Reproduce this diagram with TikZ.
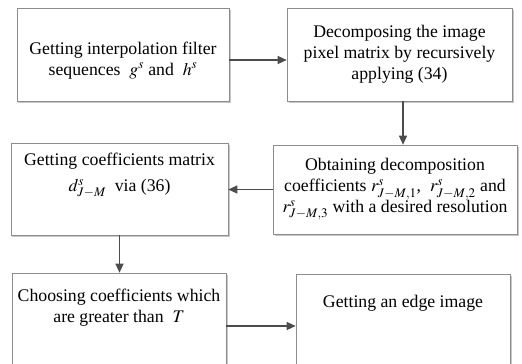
\documentclass[tikz,border=0pt]{standalone}
\usepackage{mathptmx}
\usepackage[no-math]{fontspec}
\setmainfont{Liberation Serif}
\usetikzlibrary{arrows.meta,shadows}

\tikzset{
  stepbox/.style={draw=black!45, line width=0.6pt, fill=white, align=center,
    inner sep=2pt, font=\fontsize{17.8}{21}\selectfont,
    drop shadow={shadow xshift=1.5bp, shadow yshift=-1.5bp, fill=black!22, opacity=1}},
  flow/.style={draw=black!70, line width=1.2pt, -{Triangle[length=9bp,width=8bp]}},
}

\begin{document}
\begin{tikzpicture}[x=1bp, y=-1bp]
  \useasboundingbox (0,0) rectangle (522,363);
  \clip (0,0) rectangle (522,363);

  % Boxes, top row
  \node[stepbox, minimum width=212bp, minimum height=93bp] (filters) at (123,54.5)
    {\rule{0pt}{24bp}Getting interpolation filter\\sequences \ $g^{s}$ and \ $h^{s}$};
  \node[stepbox, minimum width=225bp, minimum height=93bp] (decomp) at (399.5,54.5)
    {Decomposing the image\\pixel matrix by recursively\\applying (34)};

  % Boxes, middle row
  \node[stepbox, minimum width=244bp, minimum height=89bp] (obtain) at (395,189.5)
    {Obtaining decomposition\\coefficients $r^{s}_{J-M,1}$, \ $r^{s}_{J-M,2}$ and\\$r^{s}_{J-M,3}$ with a desired resolution};
  \node[stepbox, minimum width=217bp, minimum height=92bp] (matrix) at (119.5,189)
    {Getting coefficients matrix\\[5bp]$d^{s}_{J-M}$ \ via (36)\\[12bp]};

  % Boxes, bottom row (cut at the lower edge)
  \node[stepbox, minimum width=214bp, minimum height=100bp] (choose) at (119,323)
    {Choosing coefficients which\\are greater than \ $T$\\[14bp]};
  \node[stepbox, minimum width=214bp, minimum height=100bp] (edge) at (403,324)
    {Getting an edge image\\[24bp]};

  % Arrows
  \draw[flow] ([yshift=-5.5bp]filters.east) -- ([yshift=-5.5bp]decomp.west);
  \draw[flow] ([xshift=3.5bp]decomp.south) -- ([xshift=3.5bp]decomp.south |- obtain.north);
  \draw[flow] (obtain.west) -- (obtain.west -| matrix.east);
  \draw[flow] (matrix.south) -- (matrix.south |- choose.north);
  \draw[flow] ([yshift=-3bp]choose.east) -- ([yshift=-3bp]choose.east -| edge.west);
\end{tikzpicture}
\end{document}
